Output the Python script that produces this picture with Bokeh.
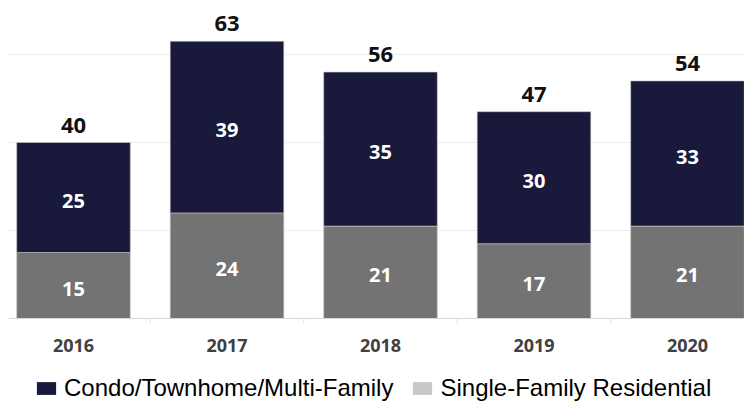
from bokeh.plotting import figure
from bokeh.models import ColumnDataSource, FixedTicker, Legend, LegendItem, Range1d, Span
from bokeh.core.properties import value
from bokeh.embed import file_html
from bokeh.resources import INLINE

years = ["2016", "2017", "2018", "2019", "2020"]
single_family = [15, 24, 21, 17, 21]
condo = [25, 39, 35, 30, 33]
totals = [s + c for s, c in zip(single_family, condo)]
series_names = ["Condo/Townhome/Multi-Family", "Single-Family Residential"]

NAVY = "#19193b"
GRAY = "#737373"
LEG_GRAY = "#c8c8c8"
xs = list(range(len(years)))

src = ColumnDataSource(dict(
    x=xs,
    sf=single_family,
    cd=condo,
    tot=totals,
    sf_mid=[s / 2 for s in single_family],
    cd_mid=[s + c / 2 for s, c in zip(single_family, condo)],
    sf_lbl=[str(v) for v in single_family],
    cd_lbl=[str(v) for v in condo],
    tot_lbl=[str(v) for v in totals],
    yr=years,
    zero=[0] * len(years),
))

PX = 4.4      # pixels per unit
W, H = 744, 402
BASE = 318    # baseline pixel row
LEFT = 8
p = figure(width=W, height=H, output_backend="svg", toolbar_location=None,
           x_range=Range1d(-65 / 153.5, (W - LEFT - 65) / 153.5),
           y_range=Range1d(-(H - BASE) / PX, BASE / PX),
           min_border_left=LEFT, min_border_right=0, min_border_top=0, min_border_bottom=0)
p.outline_line_color = None
p.xaxis.visible = False
p.yaxis.visible = False
p.xgrid.visible = False
p.ygrid.ticker = FixedTicker(ticks=[20, 40, 60])
p.ygrid.grid_line_color = "#ededed"
p.ygrid.grid_line_width = 1

r_sf = p.vbar(x="x", bottom=0, top="sf", width=0.74, source=src,
              fill_color=GRAY, line_color="#c8c8c8", line_width=0.6)
r_cd = p.vbar(x="x", bottom="sf", top="tot", width=0.74, source=src,
              fill_color=NAVY, line_color="#c8c8c8", line_width=0.6)

# baseline and category separator ticks
p.add_layout(Span(location=0, dimension="width", line_color="#d6d6d6", line_width=1))
bx = [i + 0.5 for i in xs[:-1]]
p.segment(x0=bx, x1=bx, y0=[0] * len(bx), y1=[-5 / PX] * len(bx),
          line_color="#e0e0e0", line_width=1)

font = value("Open Sans")
p.text(x="x", y="sf_mid", text="sf_lbl", source=src, text_color="white",
       text_font=font, text_font_size="20px", text_font_style="bold",
       text_align="center", text_baseline="middle", y_offset=3)
p.text(x="x", y="cd_mid", text="cd_lbl", source=src, text_color="white",
       text_font=font, text_font_size="20px", text_font_style="bold",
       text_align="center", text_baseline="middle", y_offset=3)
p.text(x="x", y="tot", text="tot_lbl", source=src, text_color="#111111",
       text_font=font, text_font_size="22px", text_font_style="bold",
       text_align="center", text_baseline="bottom", y_offset=-10)
# year labels (category axis)
p.text(x="x", y="zero", text="yr", source=src, text_color="#404040",
       text_font=font, text_font_size="18px", text_font_style="bold",
       text_align="center", text_baseline="middle", y_offset=27)

# zero-height proxies that carry the legend swatch colours
leg_cd = p.vbar(x="x", bottom="zero", top="zero", width=0.74, source=src,
                fill_color=NAVY, line_color=None)
leg_sf = p.vbar(x="x", bottom="zero", top="zero", width=0.74, source=src,
                fill_color=LEG_GRAY, line_color=None)
legend = Legend(items=[
    LegendItem(label=series_names[0], renderers=[leg_cd]),
    LegendItem(label=series_names[1], renderers=[leg_sf]),
], orientation="horizontal", location=(26, 0))
legend.label_text_font = "Liberation Sans"
legend.label_text_font_size = "24px"
legend.label_text_color = "#000000"
legend.glyph_width = 24
legend.glyph_height = 16
legend.label_standoff = 6
legend.spacing = 17
legend.padding = 0
legend.margin = 0
legend.border_line_color = None
legend.background_fill_alpha = 0
p.add_layout(legend)

open("out.html", "w").write(file_html(p, INLINE))
